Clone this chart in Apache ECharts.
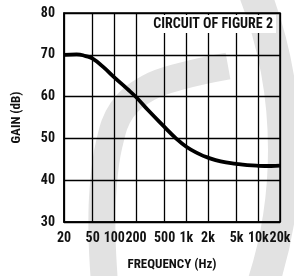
<!DOCTYPE html>
<html>
<head>
<meta charset="utf-8">
<script src="https://cdn.jsdelivr.net/npm/echarts@6/dist/echarts.min.js"></script>
<style>
html,body{margin:0;padding:0;background:#fff;}
#chart{width:294px;height:276px;}
</style>
</head>
<body>
<div id="chart"></div>
<script>
// Frequency (Hz) and gain (dB)
var freqHz = [20, 30, 40, 50, 70, 100, 150, 200, 300, 500, 700, 1000, 1500, 2000, 3000, 5000, 7000, 10000, 15000, 20000];
var gainDb = [70, 70.1, 69.7, 69.1, 67.1, 64.6, 61.9, 59.9, 56.6, 52.7, 50.2, 48.0, 46.3, 45.4, 44.5, 43.9, 43.6, 43.45, 43.4, 43.5];

var xTickValues = [20, 50, 100, 200, 500, 1000, 2000, 5000, 10000, 20000];
var xTickLabels = ['20', '50', '100', '200', '500', '1k', '2k', '5k', '10k', '20k'];

var xAxisName = 'FREQUENCY (Hz)';
var yAxisName = 'GAIN (dB)';
var noteText = 'CIRCUIT OF FIGURE 2';

var FONT = "'Liberation Sans Narrow', 'Roboto Condensed', 'Noto Sans ExtraCondensed', 'Noto Sans Condensed', 'Open Sans Condensed', 'DejaVu Sans Condensed', 'Noto Sans', sans-serif";
var WEIGHT = 'bold condensed';

var points = freqHz.map(function (f, i) { return [f, gainDb[i]]; });

var chart = echarts.init(document.getElementById('chart'), null, {renderer: 'canvas'});
chart.setOption({
  animation: false,
  backgroundColor: '#ffffff',
  title: {
    text: noteText,
    right: 18,
    top: 15,
    z: 12,
    padding: [2, 3],
    backgroundColor: '#ffffff',
    textStyle: {fontFamily: FONT, fontWeight: WEIGHT, fontSize: 14, color: '#111'}
  },
  graphic: [
    {
      type: 'polyline',
      z: 0,
      silent: true,
      shape: {
        points: [[105, 290], [102, 235], [103, 190], [109, 145], [122, 110], [148, 88], [182, 76], [228, 66]],
        smooth: 0.4
      },
      style: {stroke: '#e2e2e2', lineWidth: 27, fill: null, lineCap: 'butt'}
    },
    {
      type: 'arc',
      z: 0,
      silent: true,
      shape: {cx: -150, cy: 150, r: 434, startAngle: -0.5, endAngle: 0.5, clockwise: true},
      style: {stroke: '#e2e2e2', lineWidth: 32, fill: null}
    }
  ],
  grid: {
    left: 64, right: 14, top: 13, bottom: 49, z: 10,
    show: true, borderColor: '#000', borderWidth: 1.5, backgroundColor: 'transparent'
  },
  xAxis: {
    type: 'log',
    logBase: 10,
    min: 20,
    max: 20001,
    z: 10,
    name: xAxisName,
    nameLocation: 'middle',
    nameGap: 36,
    nameTextStyle: {fontFamily: FONT, fontWeight: WEIGHT, fontSize: 13, color: '#111'},
    axisLine: {show: true, lineStyle: {color: '#000', width: 1.5}},
    axisTick: {show: false, customValues: xTickValues},
    axisLabel: {
      customValues: xTickValues,
      margin: 9,
      hideOverlap: false,
      fontFamily: FONT, fontWeight: WEIGHT, fontSize: 14, color: '#111',
      formatter: function (v) {
        var i = -1;
        for (var k = 0; k < xTickValues.length; k++) {
          if (Math.abs(xTickValues[k] - v) / xTickValues[k] < 1e-4) { i = k; }
        }
        return i >= 0 ? xTickLabels[i] : '';
      }
    },
    splitLine: {show: true, lineStyle: {color: '#000', width: 1.3}}
  },
  yAxis: {
    type: 'value',
    min: 30,
    max: 80,
    interval: 10,
    z: 10,
    name: yAxisName,
    nameLocation: 'middle',
    nameGap: 41,
    nameTextStyle: {fontFamily: FONT, fontWeight: WEIGHT, fontSize: 13, color: '#111'},
    axisLine: {show: true, lineStyle: {color: '#000', width: 1.5}},
    axisTick: {show: false},
    axisLabel: {margin: 9, fontFamily: FONT, fontWeight: WEIGHT, fontSize: 14, color: '#111'},
    splitLine: {show: true, lineStyle: {color: '#000', width: 1.3}}
  },
  series: [{
    type: 'line',
    data: points,
    smooth: 0.5,
    showSymbol: false,
    symbol: 'none',
    lineStyle: {color: '#000', width: 3.8},
    z: 15
  }]
});
</script>
</body>
</html>
